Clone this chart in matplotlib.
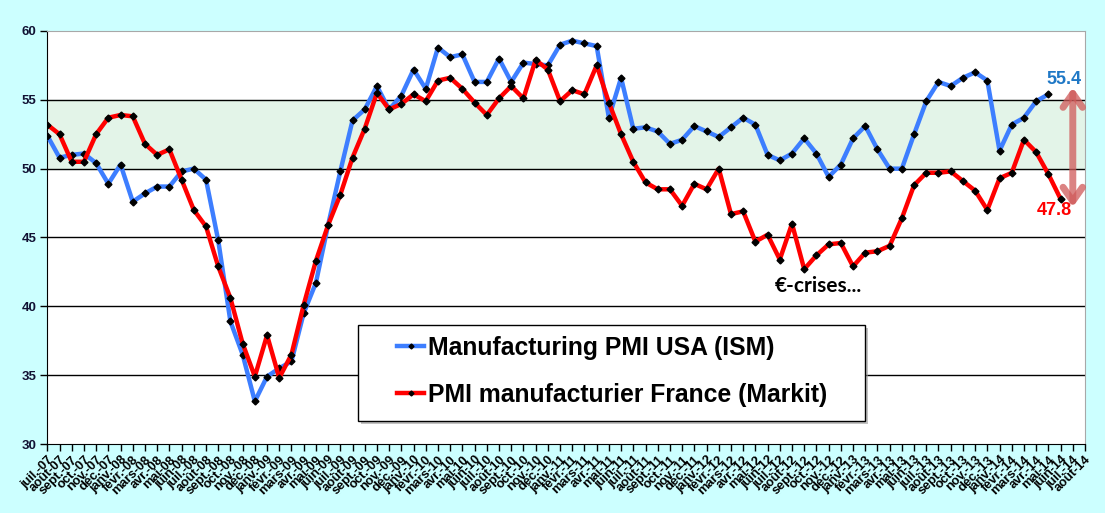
import matplotlib
matplotlib.use("Agg")
import matplotlib.pyplot as plt
from matplotlib.patches import Rectangle

plt.rcParams['font.family'] = ['Liberation Sans', 'DejaVu Sans']

months = ["juil.", "août", "sept.", "oct.", "nov.", "déc.",
          "janv.", "févr.", "mars", "avr.", "mai", "juin"]
# juil.-07 .. août-14
tick_labels = []
for k in range(86):
    m = months[k % 12]
    yy = 7 + (k + 6) // 12
    tick_labels.append(f"{m}-{yy:02d}")

usa_pmi = [52.4, 50.8, 51.0, 51.1, 50.4, 48.9, 50.3, 47.6, 48.2, 48.7, 48.7, 49.8,
           50.0, 49.2, 44.8, 38.9, 36.5, 33.1, 34.9, 35.5, 36.0, 39.5, 41.7, 45.9,
           49.8, 53.5, 54.3, 56.0, 54.3, 55.3, 57.2, 55.8, 58.8, 58.1, 58.3, 56.3,
           56.3, 58.0, 56.3, 57.7, 57.6, 57.5, 59.0, 59.3, 59.1, 58.9, 53.7, 56.6,
           52.9, 53.0, 52.7, 51.8, 52.1, 53.1, 52.7, 52.3, 53.0, 53.7, 53.2, 51.0,
           50.6, 51.1, 52.2, 51.1, 49.4, 50.3, 52.2, 53.1, 51.4, 50.0, 50.0, 52.5,
           54.9, 56.3, 56.0, 56.6, 57.0, 56.4, 51.3, 53.2, 53.7, 54.9, 55.4]

france_pmi = [53.2, 52.5, 50.5, 50.5, 52.5, 53.7, 53.9, 53.8, 51.8, 51.0, 51.4, 49.2,
              47.0, 45.8, 42.9, 40.6, 37.3, 34.9, 37.9, 34.8, 36.5, 40.1, 43.3, 45.9,
              48.1, 50.8, 52.9, 55.5, 54.3, 54.7, 55.4, 54.9, 56.4, 56.6, 55.8, 54.8,
              53.9, 55.1, 56.0, 55.1, 57.9, 57.2, 54.9, 55.7, 55.4, 57.5, 54.8, 52.5,
              50.5, 49.0, 48.5, 48.5, 47.3, 48.9, 48.5, 50.0, 46.7, 46.9, 44.7, 45.2,
              43.4, 46.0, 42.7, 43.7, 44.5, 44.6, 42.9, 43.9, 44.0, 44.4, 46.4, 48.8,
              49.7, 49.7, 49.8, 49.1, 48.4, 47.0, 49.3, 49.7, 52.1, 51.2, 49.6, 47.8]

usa_label = "Manufacturing PMI USA (ISM)"
france_label = "PMI manufacturier France (Markit)"

fig = plt.figure(figsize=(11.05, 5.13), dpi=100)
fig.patch.set_facecolor('#CCFFFF')
ax = fig.add_axes([0.0428, 0.1345, 0.9391, 0.8051])
ax.set_facecolor('white')

ax.axhspan(50, 55, color='#E3F4E8', zorder=0)
for g in [35, 40, 45, 50, 55]:
    ax.axhline(g, color='black', lw=1.0, zorder=1)

x_usa = list(range(len(usa_pmi)))
x_fr = list(range(len(france_pmi)))
ax.plot(x_usa, usa_pmi, color='#3D7EFF', lw=3.2, marker='D', ms=3.5,
        mfc='black', mec='black', zorder=3, label=usa_label, solid_joinstyle='round')
ax.plot(x_fr, france_pmi, color='#FF0000', lw=3.2, marker='D', ms=3.5,
        mfc='black', mec='black', zorder=4, label=france_label, solid_joinstyle='round')

ax.set_xlim(0, 85)
ax.set_ylim(30, 60)
ax.set_yticks([30, 35, 40, 45, 50, 55, 60])
ax.set_yticklabels(["30", "35", "40", "45", "50", "55", "60"], fontsize=9.5,
                   fontweight='bold', color='#111133')
ax.set_xticks(range(86))
ax.set_xticklabels(tick_labels, rotation=45, ha='right', rotation_mode='anchor',
                   fontsize=9.3, fontweight='bold')
ax.tick_params(axis='x', length=5, width=1, direction='out', pad=2)
ax.tick_params(axis='y', length=5, width=1, direction='out', pad=3)

ax.spines['left'].set_color('black')
ax.spines['bottom'].set_color('black')
ax.spines['top'].set_color('#A8A8A8')
ax.spines['right'].set_color('#A8A8A8')

# legend box (manual frame with shadow)
bx0, by0, bw, bh = 0.2994, 0.0557, 0.4886, 0.2324
shadow = Rectangle((bx0 + 0.003, by0 - 0.008), bw, bh, transform=ax.transAxes,
                   facecolor='#9A9A9A', edgecolor='none', alpha=0.6, zorder=7)
frame = Rectangle((bx0, by0), bw, bh, transform=ax.transAxes,
                  facecolor='white', edgecolor='black', lw=1.0, zorder=8)
ax.add_patch(shadow)
ax.add_patch(frame)

leg = ax.legend(loc='center left', bbox_to_anchor=(0.337, 0.176), frameon=False,
                numpoints=1, handlelength=1.1, handletextpad=0.15, labelspacing=0.95,
                borderpad=0, borderaxespad=0,
                prop={'family': 'Liberation Sans', 'weight': 'bold', 'size': 17.8})
leg.set_zorder(9)
for h in leg.legend_handles:
    h.set_markersize(2.5)

ax.text(63.2, 41.5, "€-crises...", fontsize=15, fontweight='bold',
        family=['Lato', 'DejaVu Sans'], ha='center', va='center', color='black', zorder=5)
ax.text(83.3, 56.5, "55.4", fontsize=13, fontweight='bold', color='#1F78C6',
        ha='center', va='center', zorder=5)
ax.text(82.45, 46.95, "47.8", fontsize=13, fontweight='bold', color='#FF0000',
        ha='center', va='center', zorder=5)
ax.annotate("", xy=(84.0, 55.9), xytext=(84.0, 47.2),
            arrowprops=dict(arrowstyle='<->,head_length=1.0,head_width=0.7',
                            color='#D05A5A', alpha=0.75, lw=5,
                            shrinkA=0, shrinkB=0), zorder=6)

fig.savefig("out.png", dpi=100, facecolor=fig.get_facecolor())
